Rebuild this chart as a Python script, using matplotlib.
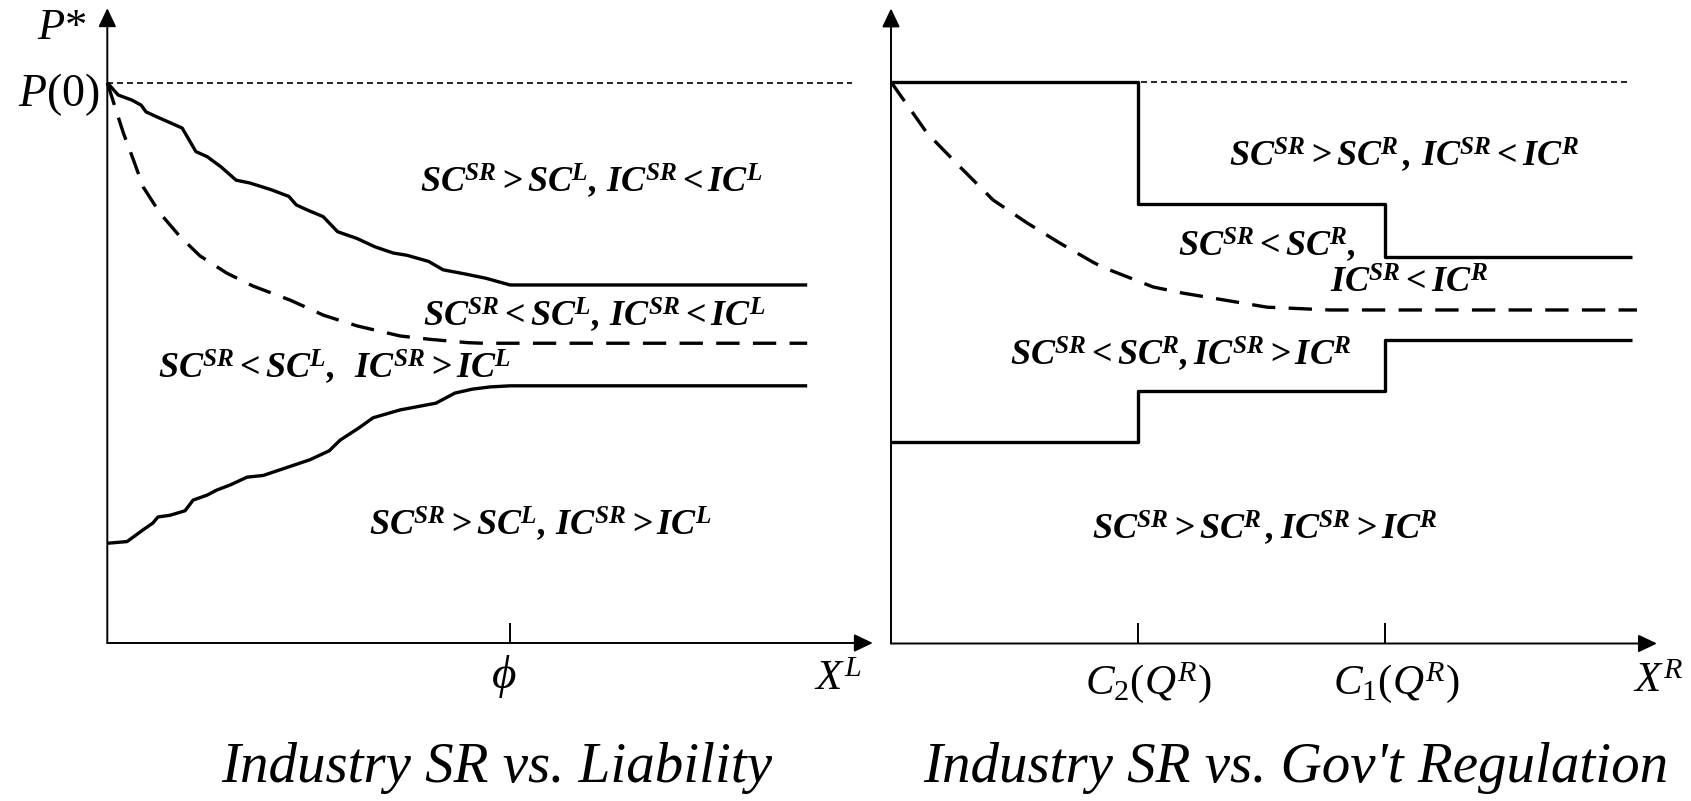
import matplotlib
matplotlib.use('Agg')
import matplotlib.pyplot as plt

plt.rcParams['mathtext.fontset'] = 'custom'
plt.rcParams['mathtext.rm'] = 'Liberation Serif'
plt.rcParams['mathtext.it'] = 'Liberation Serif:italic'
plt.rcParams['mathtext.bf'] = 'Liberation Serif:bold'
plt.rcParams['mathtext.bfit'] = 'Liberation Serif:bold:italic'
plt.rcParams['font.family'] = ['Liberation Serif', 'DejaVu Serif']

# ---------------- data (normalised: P(0) = 1, phi = 1, C2 = 1, C1 = 2) ----------------
# Left panel: Industry SR vs. Liability
liab_upper_x = [0, 0.027, 0.061, 0.084, 0.096, 0.123, 0.158, 0.186, 0.220, 0.248, 0.282,
                0.320, 0.354, 0.407, 0.451, 0.469, 0.496, 0.536, 0.572, 0.620, 0.665,
                0.710, 0.744, 0.798, 0.834, 0.886, 0.940, 1.000, 1.738]
liab_upper_y = [1.000, 0.978, 0.969, 0.960, 0.948, 0.939, 0.928, 0.919, 0.877, 0.868, 0.850,
                0.826, 0.821, 0.809, 0.797, 0.782, 0.773, 0.761, 0.734, 0.722, 0.707,
                0.696, 0.692, 0.681, 0.666, 0.659, 0.651, 0.639, 0.639]
liab_dash_x = [0, 0.019, 0.040, 0.065, 0.089, 0.131, 0.181, 0.230, 0.297, 0.362, 0.454,
               0.537, 0.620, 0.727, 0.801, 0.896, 0.933, 1.738]
liab_dash_y = [1.000, 0.957, 0.910, 0.862, 0.814, 0.767, 0.725, 0.691, 0.660, 0.637, 0.612,
               0.585, 0.566, 0.548, 0.542, 0.536, 0.535, 0.535]
liab_lower_x = [0, 0.049, 0.089, 0.113, 0.126, 0.156, 0.193, 0.213, 0.248, 0.272, 0.305,
                0.347, 0.387, 0.503, 0.551, 0.578, 0.625, 0.660, 0.727, 0.816, 0.863,
                0.906, 0.950, 1.000, 1.738]
liab_lower_y = [0.178, 0.181, 0.202, 0.214, 0.225, 0.228, 0.236, 0.255, 0.264, 0.273, 0.282,
                0.296, 0.299, 0.327, 0.343, 0.362, 0.384, 0.402, 0.416, 0.428, 0.446,
                0.453, 0.457, 0.459, 0.459]
liab_ref_x = [0, 1.85]
liab_ref_y = [1.0, 1.0]
liab_ticks = [1.0]

# Right panel: Industry SR vs. Gov't Regulation
reg_edges = [0, 1, 2, 3]
reg_upper = [1.000, 0.783, 0.689, 0.689]
reg_lower = [0.358, 0.450, 0.541, 0.541]
reg_dash_x = [0, 0.146, 0.279, 0.413, 0.551, 0.684, 0.818, 0.858, 1.061, 1.182, 1.522,
              1.777, 3.02]
reg_dash_y = [1.000, 0.909, 0.849, 0.790, 0.749, 0.713, 0.679, 0.670, 0.635, 0.624, 0.599,
              0.594, 0.594]
reg_ref_x = [0, 2.99]
reg_ref_y = [1.0, 1.0]
reg_ticks = [1.0, 2.0]

# text
liab_regions = [r'$\mathbfit{SC^{SR}>SC^{L},\,IC^{SR}<IC^{L}}$',
                r'$\mathbfit{SC^{SR}<SC^{L},\,IC^{SR}<IC^{L}}$',
                r'$\mathbfit{SC^{SR}<SC^{L},\;\;IC^{SR}>IC^{L}}$',
                r'$\mathbfit{SC^{SR}>SC^{L},\,IC^{SR}>IC^{L}}$']
reg_regions = [r'$\mathbfit{SC^{SR}>SC^{R}\,,\,IC^{SR}<IC^{R}}$',
               r'$\mathbfit{SC^{SR}<SC^{R},}$',
               r'$\mathbfit{IC^{SR}<IC^{R}}$',
               r'$\mathbfit{SC^{SR}<SC^{R},IC^{SR}>IC^{R}}$',
               r'$\mathbfit{SC^{SR}>SC^{R}\,,IC^{SR}>IC^{R}}$']
titles = ['Industry SR vs. Liability', "Industry SR vs. Gov't Regulation"]

W, H = 1691, 801
fig = plt.figure(figsize=(W / 100, H / 100), dpi=100)


def make_axes(ox, oy, ux, uy, xmax, ymax):
    ax = fig.add_axes([ox / W, (H - oy) / H, xmax * ux / W, ymax * uy / H])
    ax.set_xlim(0, xmax)
    ax.set_ylim(0, ymax)
    ax.set_axis_off()
    arrow = dict(arrowstyle='-|>,head_length=0.42,head_width=0.2', lw=1.4, color='black',
                 shrinkA=0, shrinkB=0, mutation_scale=27)
    ax.annotate('', xy=(xmax, 0), xytext=(0, 0), arrowprops=arrow, annotation_clip=False)
    ax.annotate('', xy=(0, ymax), xytext=(0, 0), arrowprops=arrow, annotation_clip=False)
    return ax


solid = dict(color='black', lw=2.4, clip_on=False, solid_capstyle='butt')
dashed = dict(color='black', lw=2.4, clip_on=False, dashes=(7, 4))
dotted = dict(color='black', lw=1.2, clip_on=False, dashes=(3.6, 2.4))

# ---- left panel ----
axL = make_axes(107.3, 643, 402.7, 560.3, 1.901, 1.133)
axL.plot(liab_ref_x, liab_ref_y, **dotted)
axL.plot(liab_upper_x, liab_upper_y, **solid)
axL.plot(liab_dash_x, liab_dash_y, **dashed)
axL.plot(liab_lower_x, liab_lower_y, **solid)
axL.vlines(liab_ticks, 0, 0.036, color='black', lw=1.4)

rs = 26
axL.text(1.201, 0.825, liab_regions[0], fontsize=rs, ha='center', va='center')
axL.text(1.209, 0.587, liab_regions[1], fontsize=rs, ha='center', va='center')
axL.text(0.563, 0.493, liab_regions[2], fontsize=rs, ha='center', va='center')
axL.text(1.075, 0.214, liab_regions[3], fontsize=rs, ha='center', va='center')
axL.text(-0.112, 1.098, r'$P$*', fontsize=32, ha='center', va='center')
axL.text(-0.02, 0.978, r'$P$(0)', fontsize=33, ha='right', va='center')
axL.text(0.985, -0.059, r'$\phi$', fontsize=34, ha='center', va='center')
axL.text(1.814, -0.066, r'$X^{L}$', fontsize=31, ha='center', va='center')
axL.text(0.968, -0.223, titles[0], fontsize=41, style='italic', ha='center', va='center')

# ---- right panel ----
axR = make_axes(891, 643.5, 247, 561.5, 3.101, 1.131)
axR.plot(reg_ref_x, reg_ref_y, **dotted)
axR.plot(reg_edges, reg_upper, drawstyle='steps-post', **solid)
axR.plot(reg_edges, reg_lower, drawstyle='steps-post', **solid)
axR.plot(reg_dash_x, reg_dash_y, **dashed)
axR.vlines(reg_ticks, 0, 0.036, color='black', lw=1.4)

axR.text(2.077, 0.870, reg_regions[0], fontsize=rs, ha='center', va='center')
axR.text(1.522, 0.710, reg_regions[1], fontsize=rs, ha='center', va='center')
axR.text(2.097, 0.640, reg_regions[2], fontsize=rs, ha='center', va='center')
axR.text(1.174, 0.517, reg_regions[3], fontsize=rs, ha='center', va='center')
axR.text(1.512, 0.206, reg_regions[4], fontsize=rs, ha='center', va='center')
axR.text(1.040, -0.069, r'$C_{2}(Q^{R})$', fontsize=31, ha='center', va='center')
axR.text(2.045, -0.069, r'$C_{1}(Q^{R})$', fontsize=31, ha='center', va='center')
axR.text(3.105, -0.069, r'$X^{R}$', fontsize=31, ha='center', va='center')
axR.text(1.640, -0.222, titles[1], fontsize=41, style='italic', ha='center', va='center')

fig.savefig('out.png', dpi=100)
